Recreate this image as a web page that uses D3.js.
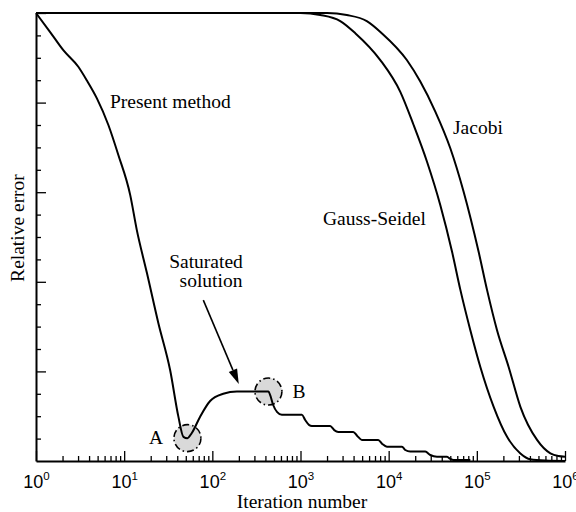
<!DOCTYPE html>
<html><head><meta charset="utf-8">
<script src="https://cdn.jsdelivr.net/npm/d3@7"></script>
<style>
html,body{margin:0;padding:0;background:#fff;}
svg{display:block;}
</style></head>
<body>
<svg id="chart" width="576" height="512"></svg>
<script>
// ---- data ----
const presentIter = [1, 1.44, 2.04, 3.02, 3.76, 4.89, 6.62, 8.59, 11.7, 13.9, 18.1, 24.4, 33.2, 41.2, 47.0, 52.2, 58.5, 72.7, 94.4, 133, 190, 433, 453, 490, 544, 615, 1037, 1130, 1256, 1347, 2173, 2414, 2680, 3966, 4403, 4977, 7621, 8460, 9570, 14160, 15420, 17580, 26020, 29650, 35320, 45920, 50020, 54560, 84400];
const presentErr  = [1.0, 0.958, 0.917, 0.880, 0.850, 0.810, 0.750, 0.683, 0.594, 0.516, 0.420, 0.308, 0.203, 0.099, 0.054, 0.051, 0.0625, 0.099, 0.134, 0.150, 0.155, 0.155, 0.147, 0.125, 0.109, 0.103, 0.103, 0.0915, 0.080, 0.078, 0.078, 0.069, 0.065, 0.065, 0.056, 0.047, 0.047, 0.038, 0.032, 0.032, 0.0245, 0.021, 0.021, 0.0134, 0.0096, 0.0096, 0.0045, 0.002, 0.002];

const gsIter = [1, 1000, 1675, 2823, 4178, 8035, 13550, 19180, 27220, 38550, 52360, 65060, 84400, 109600, 155200, 220300, 311900, 404800, 598800, 1000000];
const gsErr  = [1.0, 1.0, 0.9955, 0.982, 0.955, 0.895, 0.824, 0.750, 0.668, 0.571, 0.467, 0.382, 0.292, 0.210, 0.121, 0.054, 0.017, 0.004, 0.001, 0.0];

const jacobiIter = [1, 2000, 3350, 5650, 8350, 16070, 22840, 33800, 50020, 70820, 104800, 130500, 169500, 229500, 311900, 482000, 682700, 841000, 1000000];
const jacobiErr  = [1.0, 1.0, 0.9955, 0.982, 0.955, 0.895, 0.847, 0.780, 0.698, 0.601, 0.467, 0.382, 0.292, 0.210, 0.121, 0.047, 0.017, 0.011, 0.0096];

const xTickExponents = [0, 1, 2, 3, 4, 5, 6];
const yMajorTicks = [0.2, 0.4, 0.6, 0.8, 1.0];

const circleA = {iter: 52.2, err: 0.051, label: "A"};
const circleB = {iter: 433, err: 0.155, label: "B"};
const arrowFrom = {iter: 79.0, err: 0.359};
const arrowTo = {iter: 199.5, err: 0.172};

// ---- layout ----
const svg = d3.select("#chart");
const x = d3.scaleLog().domain([1, 1e6]).range([36, 565]);
const y = d3.scaleLinear().domain([0, 1]).range([461, 13]);
const serif = "'Liberation Serif','Times New Roman',serif";
const sans = "'Liberation Sans',Arial,sans-serif";
const fs = 19.5;

// minor tick values
const xMinor = [];
for (let e = 0; e < 6; e++) for (let m = 2; m <= 9; m++) xMinor.push(m * Math.pow(10, e));
const yMinor = d3.range(1, 20).map(i => i * 0.05).filter(v => Math.abs(v / 0.2 - Math.round(v / 0.2)) > 1e-6);

// highlight circles (behind curves)
const circG = svg.append("g");
[circleA, circleB].forEach(c => {
  circG.append("circle")
    .attr("cx", x(c.iter)).attr("cy", y(c.err)).attr("r", 13.5)
    .attr("fill", "#d9d9d9").attr("stroke", "#000").attr("stroke-width", 1.6)
    .attr("stroke-dasharray", "7,3,1.5,3");
});

// curves
const line = d3.line().x((d) => x(d[0])).y((d) => y(d[1])).curve(d3.curveMonotoneX);
function drawSeries(it, er) {
  svg.append("path").datum(it.map((v, i) => [v, er[i]]))
    .attr("d", line).attr("fill", "none").attr("stroke", "#000").attr("stroke-width", 2)
    .attr("stroke-linejoin", "round");
}
drawSeries(presentIter, presentErr);
drawSeries(gsIter, gsErr);
drawSeries(jacobiIter, jacobiErr);

// axes
const xMajorG = svg.append("g").attr("transform", `translate(0,${y(0)})`)
  .call(d3.axisBottom(x).tickValues(xTickExponents.map(e => Math.pow(10, e)))
    .tickSizeInner(-10).tickSizeOuter(0).tickPadding(27));
xMajorG.selectAll(".tick text").each(function (d, i) {
  const t = d3.select(this).text(null)
    .attr("font-family", sans).attr("font-size", 18).attr("fill", "#000").attr("dy", 0);
  t.append("tspan").text("10");
  t.append("tspan").attr("dy", -8).attr("font-size", 11.5).text(String(xTickExponents[i]));
});
svg.append("g").attr("transform", `translate(0,${y(0)})`)
  .call(d3.axisBottom(x).tickValues(xMinor).tickSizeInner(-5).tickSizeOuter(0).tickFormat(""))
  .select(".domain").remove();

const yMajorG = svg.append("g").attr("transform", `translate(${x(1)},0)`)
  .call(d3.axisLeft(y).tickValues(yMajorTicks).tickSizeInner(-10).tickSizeOuter(0).tickFormat(""));
svg.append("g").attr("transform", `translate(${x(1)},0)`)
  .call(d3.axisLeft(y).tickValues(yMinor).tickSizeInner(-5).tickSizeOuter(0).tickFormat(""))
  .select(".domain").remove();

svg.selectAll(".domain").attr("stroke", "#000").attr("stroke-width", 2);
svg.selectAll(".tick line").attr("stroke", "#000").attr("stroke-width", 1.3);

// axis titles
svg.append("text").attr("x", 302).attr("y", 508).attr("text-anchor", "middle")
  .attr("font-family", serif).attr("font-size", fs).text("Iteration number");
svg.append("text").attr("transform", "translate(24,228) rotate(-90)").attr("text-anchor", "middle")
  .attr("font-family", serif).attr("font-size", fs).text("Relative error");

// annotations
const ann = [
  {t: "Present method", x: 110, y: 108, a: "start"},
  {t: "Jacobi", x: 453, y: 134, a: "start"},
  {t: "Gauss-Seidel", x: 323, y: 225, a: "start"},
  {t: "Saturated", x: 206, y: 268, a: "middle"},
  {t: "solution", x: 211, y: 287, a: "middle"},
  {t: circleA.label, x: 156, y: 444, a: "middle"},
  {t: circleB.label, x: 299, y: 398, a: "middle"}
];
ann.forEach(d => svg.append("text").attr("x", d.x).attr("y", d.y).attr("text-anchor", d.a)
  .attr("font-family", serif).attr("font-size", fs).attr("fill", "#000").text(d.t));

// arrow
const ax0 = x(arrowFrom.iter), ay0 = y(arrowFrom.err), ax1 = x(arrowTo.iter), ay1 = y(arrowTo.err);
const ang = Math.atan2(ay1 - ay0, ax1 - ax0);
const hl = 15, hw = 4.5;
const bx = ax1 - hl * Math.cos(ang), by = ay1 - hl * Math.sin(ang);
svg.append("line").attr("x1", ax0).attr("y1", ay0).attr("x2", bx).attr("y2", by)
  .attr("stroke", "#000").attr("stroke-width", 1.6);
svg.append("path").attr("d", `M${ax1},${ay1}L${bx + hw * Math.sin(ang)},${by - hw * Math.cos(ang)}L${bx - hw * Math.sin(ang)},${by + hw * Math.cos(ang)}Z`)
  .attr("fill", "#000");
</script>
</body></html>
